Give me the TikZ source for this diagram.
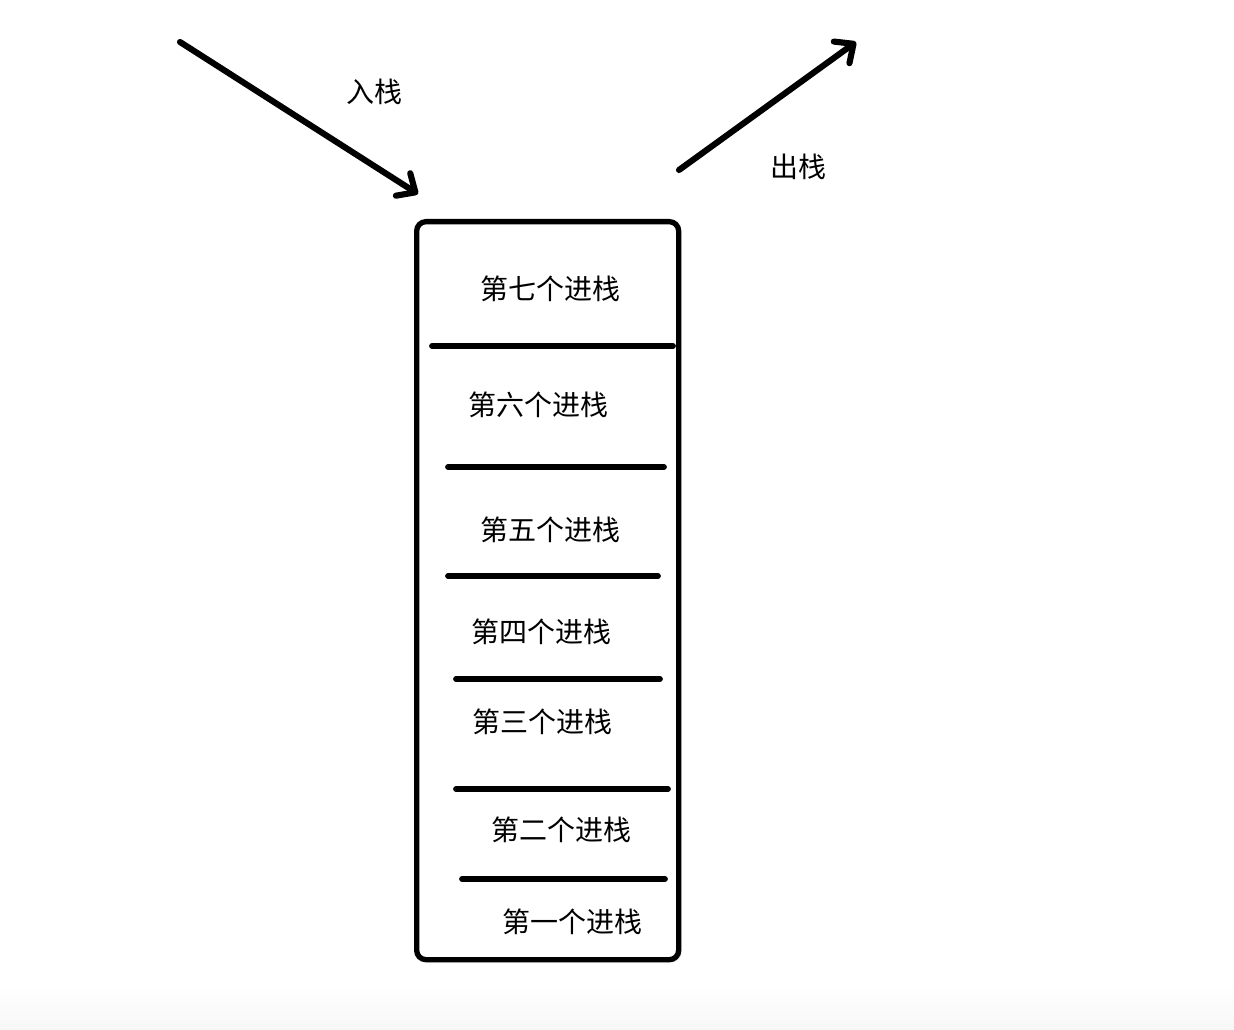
\documentclass[tikz,border=0pt]{standalone}
\usepackage{fontspec}
\newfontfamily\cjk{Noto Sans CJK SC}
\usetikzlibrary{arrows.meta,shadows}
\begin{document}
\begin{tikzpicture}[x=0.75pt,y=-0.75pt,
  lbl/.style={font=\cjk\fontsize{21}{25}\selectfont, inner sep=0pt},
  divider/.style={line width=4.3pt, line cap=round},
  bigarrow/.style={line width=4.6pt, line cap=round, -{Straight Barb[length=11pt,width=20pt,line width=4.6pt,line cap=round,line join=round]}},
  stackbox/.style={draw, line width=4pt, rounded corners=7pt, drop shadow={opacity=0.2, shadow xshift=2pt, shadow yshift=-2pt}}
]
\useasboundingbox (0,0) rectangle (1234,1030);
\shade[top color=white, bottom color=gray!6, draw=none] (0,985) rectangle (1234,1030);
% stack box
\node[stackbox, minimum width=262*0.75pt, minimum height=738*0.75pt, inner sep=0pt, anchor=north west, fill=white] (stack) at (414,219) {};
% dividers
\coordinate (d1a) at (432,346); \coordinate (d1b) at (673,346);
\coordinate (d2a) at (448,467); \coordinate (d2b) at (664,467);
\coordinate (d3a) at (448,576); \coordinate (d3b) at (658,576);
\coordinate (d4a) at (456,679); \coordinate (d4b) at (660,679);
\coordinate (d5a) at (456,789); \coordinate (d5b) at (668,789);
\coordinate (d6a) at (462,879); \coordinate (d6b) at (665,879);
\foreach \i in {1,...,6} \draw[divider] (d\i a) -- (d\i b);
% labels
\node[lbl] (l7) at (550,289) {第七个进栈};
\node[lbl] (l6) at (538,405) {第六个进栈};
\node[lbl] (l5) at (550,530) {第五个进栈};
\node[lbl] (l4) at (541,632) {第四个进栈};
\node[lbl] (l3) at (542,722) {第三个进栈};
\node[lbl] (l2) at (561,830) {第二个进栈};
\node[lbl] (l1) at (572,922) {第一个进栈};
\node[lbl] (push) at (374,92) {入栈};
\node[lbl] (pop) at (798,167) {出栈};
% arrows
\coordinate (pushs) at (180,42);
\coordinate (pushe) at (418,194);
\coordinate (pops) at (679,170);
\coordinate (pope) at (856,42);
\draw[bigarrow] (pushs) -- (pushe);
\draw[bigarrow] (pops) -- (pope);
\end{tikzpicture}
\end{document}
